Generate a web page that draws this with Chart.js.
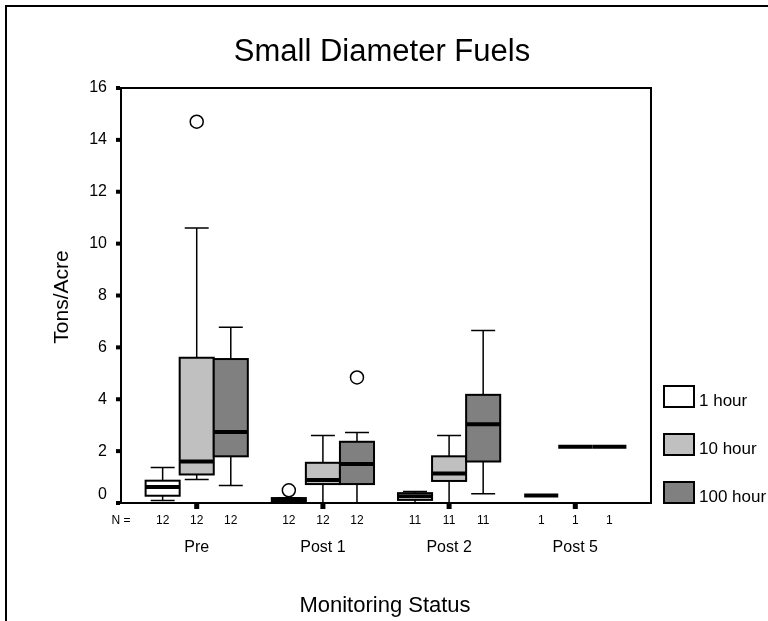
<!DOCTYPE html>
<html>
<head>
<meta charset="utf-8">
<script src="https://cdn.jsdelivr.net/npm/chart.js@4"></script>
<style>
  body { margin: 0; background: #fff; overflow: hidden; }
  canvas { display: block; }
</style>
</head>
<body>
<canvas id="boxChart" width="768" height="621"></canvas>
<script>
// categories on the x axis and the three fuel classes
const categories = ["Pre", "Post 1", "Post 2", "Post 5"];
const seriesNames = ["1 hour", "10 hour", "100 hour"];
const seriesColors = ["#ffffff", "#c0c0c0", "#808080"];
const yTicks = [0, 2, 4, 6, 8, 10, 12, 14, 16];

// box plot statistics per category (Tons/Acre)
const oneHourLow  = [0.10, 0.00, 0.00, 0.29];
const oneHourQ1   = [0.28, 0.04, 0.12, 0.29];
const oneHourMed  = [0.62, 0.10, 0.26, 0.29];
const oneHourQ3   = [0.86, 0.19, 0.38, 0.29];
const oneHourHigh = [1.37, 0.20, 0.44, 0.29];

const tenHourLow  = [0.91, 0.00, 0.00, 2.17];
const tenHourQ1   = [1.10, 0.73, 0.85, 2.17];
const tenHourMed  = [1.60, 0.89, 1.14, 2.17];
const tenHourQ3   = [5.60, 1.55, 1.80, 2.17];
const tenHourHigh = [10.60, 2.60, 2.60, 2.17];

const hundredHourLow  = [0.67, 0.00, 0.36, 2.17];
const hundredHourQ1   = [1.80, 0.73, 1.60, 2.17];
const hundredHourMed  = [2.74, 1.50, 3.04, 2.17];
const hundredHourQ3   = [5.55, 2.36, 4.17, 2.17];
const hundredHourHigh = [6.78, 2.72, 6.65, 2.17];

// sample sizes (N =)
const oneHourN = [12, 12, 11, 1];
const tenHourN = [12, 12, 11, 1];
const hundredHourN = [12, 12, 11, 1];

// outliers: category index, series index, value
const outlierCat = [0, 1, 1];
const outlierSeries = [1, 0, 2];
const outlierValue = [14.7, 0.49, 4.84];

const stats = [
  { low: oneHourLow, q1: oneHourQ1, med: oneHourMed, q3: oneHourQ3, high: oneHourHigh, n: oneHourN },
  { low: tenHourLow, q1: tenHourQ1, med: tenHourMed, q3: tenHourQ3, high: tenHourHigh, n: tenHourN },
  { low: hundredHourLow, q1: hundredHourQ1, med: hundredHourMed, q3: hundredHourQ3, high: hundredHourHigh, n: hundredHourN }
];

const offsets = [-0.27, 0, 0.27];
const halfBox = 0.135;
const capHalf = 0.095;
const FONT = "'Liberation Sans', Arial, sans-serif";

Chart.defaults.font.family = FONT;
Chart.defaults.color = "#000";

const boxPlugin = {
  id: "boxPlot",
  beforeDatasetsDraw(chart) {
    const { ctx, scales: { x, y } } = chart;
    ctx.save();
    ctx.strokeStyle = "#000";
    stats.forEach((s, si) => {
      categories.forEach((c, ci) => {
        const pos = ci + offsets[si];
        const cx = x.getPixelForValue(pos);
        const left = x.getPixelForValue(pos - halfBox);
        const right = x.getPixelForValue(pos + halfBox);
        const capL = x.getPixelForValue(pos - capHalf);
        const capR = x.getPixelForValue(pos + capHalf);
        const yLow = y.getPixelForValue(s.low[ci]);
        const yQ1 = y.getPixelForValue(s.q1[ci]);
        const yMed = y.getPixelForValue(s.med[ci]);
        const yQ3 = y.getPixelForValue(s.q3[ci]);
        const yHigh = y.getPixelForValue(s.high[ci]);

        if (s.q1[ci] !== s.q3[ci]) {
          // whiskers
          ctx.lineWidth = 1.5;
          ctx.beginPath();
          ctx.moveTo(cx, yQ3); ctx.lineTo(cx, yHigh);
          ctx.moveTo(capL, yHigh); ctx.lineTo(capR, yHigh);
          ctx.moveTo(cx, yQ1); ctx.lineTo(cx, yLow);
          ctx.moveTo(capL, yLow); ctx.lineTo(capR, yLow);
          ctx.stroke();
          // box
          ctx.fillStyle = seriesColors[si];
          ctx.fillRect(left, yQ3, right - left, yQ1 - yQ3);
          ctx.lineWidth = 2;
          ctx.strokeRect(left, yQ3, right - left, yQ1 - yQ3);
        }
        // median
        ctx.lineWidth = 4;
        ctx.beginPath();
        ctx.moveTo(left, yMed); ctx.lineTo(right, yMed);
        ctx.stroke();
      });
    });
    ctx.restore();
  },
  afterDraw(chart) {
    const { ctx, chartArea: a, scales: { x, y } } = chart;
    ctx.save();
    ctx.fillStyle = "#000";
    ctx.strokeStyle = "#000";

    // plot frame
    ctx.lineWidth = 2;
    ctx.strokeRect(a.left, a.top, a.right - a.left, a.bottom - a.top);

    // outer frame
    ctx.strokeRect(6, 6, 800, 700);

    // tick squares
    yTicks.forEach(v => {
      const py = y.getPixelForValue(v);
      ctx.fillRect(a.left - 5, py - 2, 4, 4);
    });
    categories.forEach((c, ci) => {
      const px = x.getPixelForValue(ci);
      ctx.fillRect(px - 2.5, a.bottom + 1, 5, 5);
    });

    // "0" label sits a bit higher than the others
    ctx.font = "16px " + FONT;
    ctx.textAlign = "right";
    ctx.textBaseline = "middle";
    ctx.fillText("0", a.left - 14, y.getPixelForValue(0) - 8);

    // N row
    ctx.font = "12px " + FONT;
    ctx.textAlign = "center";
    ctx.fillText("N =", a.left, 521);
    stats.forEach((s, si) => {
      categories.forEach((c, ci) => {
        ctx.fillText(String(s.n[ci]), x.getPixelForValue(ci + offsets[si]), 521);
      });
    });

    // legend
    ctx.textAlign = "left";
    ctx.textBaseline = "alphabetic";
    ctx.font = "17px " + FONT;
    seriesNames.forEach((name, i) => {
      const top = 386 + i * 48;
      ctx.fillStyle = seriesColors[i];
      ctx.fillRect(664, top, 30, 21);
      ctx.lineWidth = 2;
      ctx.strokeRect(664, top, 30, 21);
      ctx.fillStyle = "#000";
      ctx.fillText(name, 699, top + 20);
    });

    // title and axis titles
    ctx.textAlign = "center";
    ctx.font = "31px " + FONT;
    ctx.fillText("Small Diameter Fuels", 382, 61);
    ctx.font = "22px " + FONT;
    ctx.fillText("Monitoring Status", 385, 612);

    ctx.translate(68, 297);
    ctx.rotate(-Math.PI / 2);
    ctx.font = "21px " + FONT;
    ctx.fillText("Tons/Acre", 0, 0);
    ctx.restore();
  }
};

const outlierPoints = outlierValue.map((v, i) => ({
  x: outlierCat[i] + offsets[outlierSeries[i]],
  y: v
}));

new Chart(document.getElementById("boxChart"), {
  type: "scatter",
  data: {
    datasets: [{
      label: "Outliers",
      data: outlierPoints,
      pointRadius: 6.5,
      pointHoverRadius: 6.5,
      backgroundColor: "#fff",
      borderColor: "#000",
      borderWidth: 1.5
    }]
  },
  options: {
    responsive: false,
    animation: false,
    devicePixelRatio: 1,
    layout: { padding: { left: 0, top: 88, right: 117, bottom: 0 } },
    plugins: { legend: { display: false }, tooltip: { enabled: false } },
    scales: {
      x: {
        type: "linear",
        min: -0.6,
        max: 3.6,
        afterBuildTicks: scale => { scale.ticks = categories.map((c, i) => ({ value: i })); },
        afterFit: scale => { scale.height = 118; },
        grid: { display: false, drawTicks: false },
        border: { display: false },
        ticks: {
          padding: 35,
          font: { size: 16 },
          color: "#000",
          callback: v => categories[v]
        }
      },
      y: {
        min: 0,
        max: 16,
        afterBuildTicks: scale => { scale.ticks = yTicks.map(v => ({ value: v })); },
        afterFit: scale => { scale.width = 121; },
        grid: { display: false, drawTicks: false },
        border: { display: false },
        ticks: {
          padding: 14,
          font: { size: 16 },
          color: "#000",
          callback: v => (v === 0 ? "" : v)
        }
      }
    }
  },
  plugins: [boxPlugin]
});
</script>
</body>
</html>
